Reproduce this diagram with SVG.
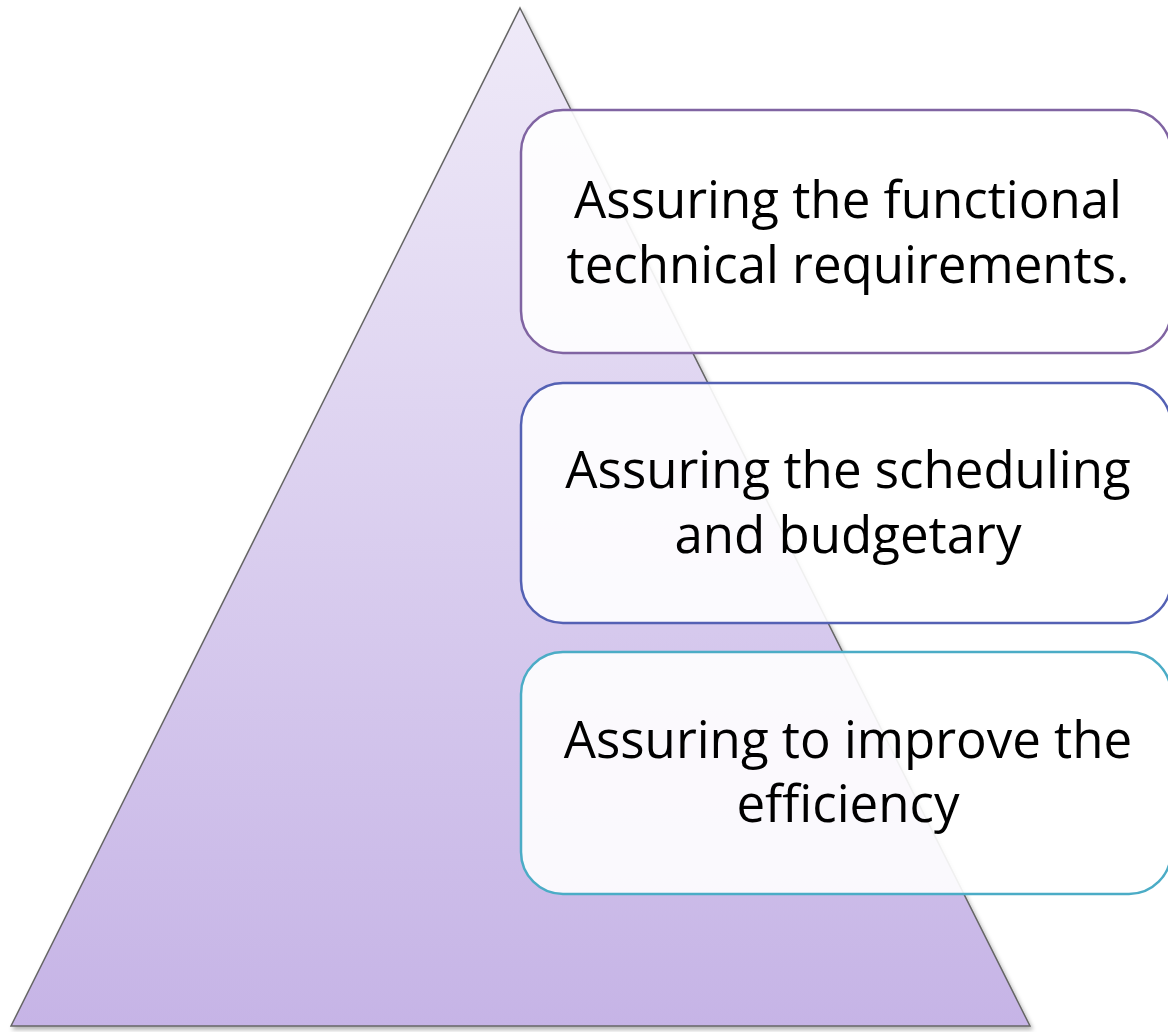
<svg xmlns="http://www.w3.org/2000/svg" width="1168" height="1032" viewBox="0 0 1168 1032">
<defs>
<linearGradient id="tri" x1="0" y1="0" x2="0" y2="1">
<stop offset="0" stop-color="#EFEAF8"/>
<stop offset="1" stop-color="#C6B4E6"/>
</linearGradient>
<filter id="sh" x="-5%" y="-5%" width="110%" height="110%">
<feDropShadow dx="2" dy="3" stdDeviation="2" flood-color="#000" flood-opacity="0.3"/>
</filter>
</defs>
<style>
.box{fill:#FFFFFF;fill-opacity:0.9;stroke-width:2.5}
.t{font-family:"Open Sans","Liberation Sans",Arial,sans-serif;font-size:51px;fill:#000;text-anchor:middle}
</style>
<rect width="1168" height="1032" fill="#FFFFFF"/>
<g id="pyramid">
<polygon points="520,8 1030,1026 11,1026" fill="url(#tri)" stroke="#666666" stroke-width="1.5" filter="url(#sh)"/>
</g>
<g id="connectors"></g>
<g id="box1">
<rect class="box" x="521" y="110" width="650" height="243" rx="42" stroke="#8064A2"/>
<text class="t" x="848" y="218">Assuring the functional</text>
<text class="t" x="848" y="283">technical requirements.</text>
</g>
<g id="box2">
<rect class="box" x="521" y="383" width="650" height="240" rx="42" stroke="#5461B4"/>
<text class="t" x="848" y="488">Assuring the scheduling</text>
<text class="t" x="848" y="553">and budgetary</text>
</g>
<g id="box3">
<rect class="box" x="521" y="652" width="650" height="242" rx="42" stroke="#4BACC6"/>
<text class="t" x="848" y="758">Assuring to improve the</text>
<text class="t" x="848" y="822">efficiency</text>
</g>
</svg>
